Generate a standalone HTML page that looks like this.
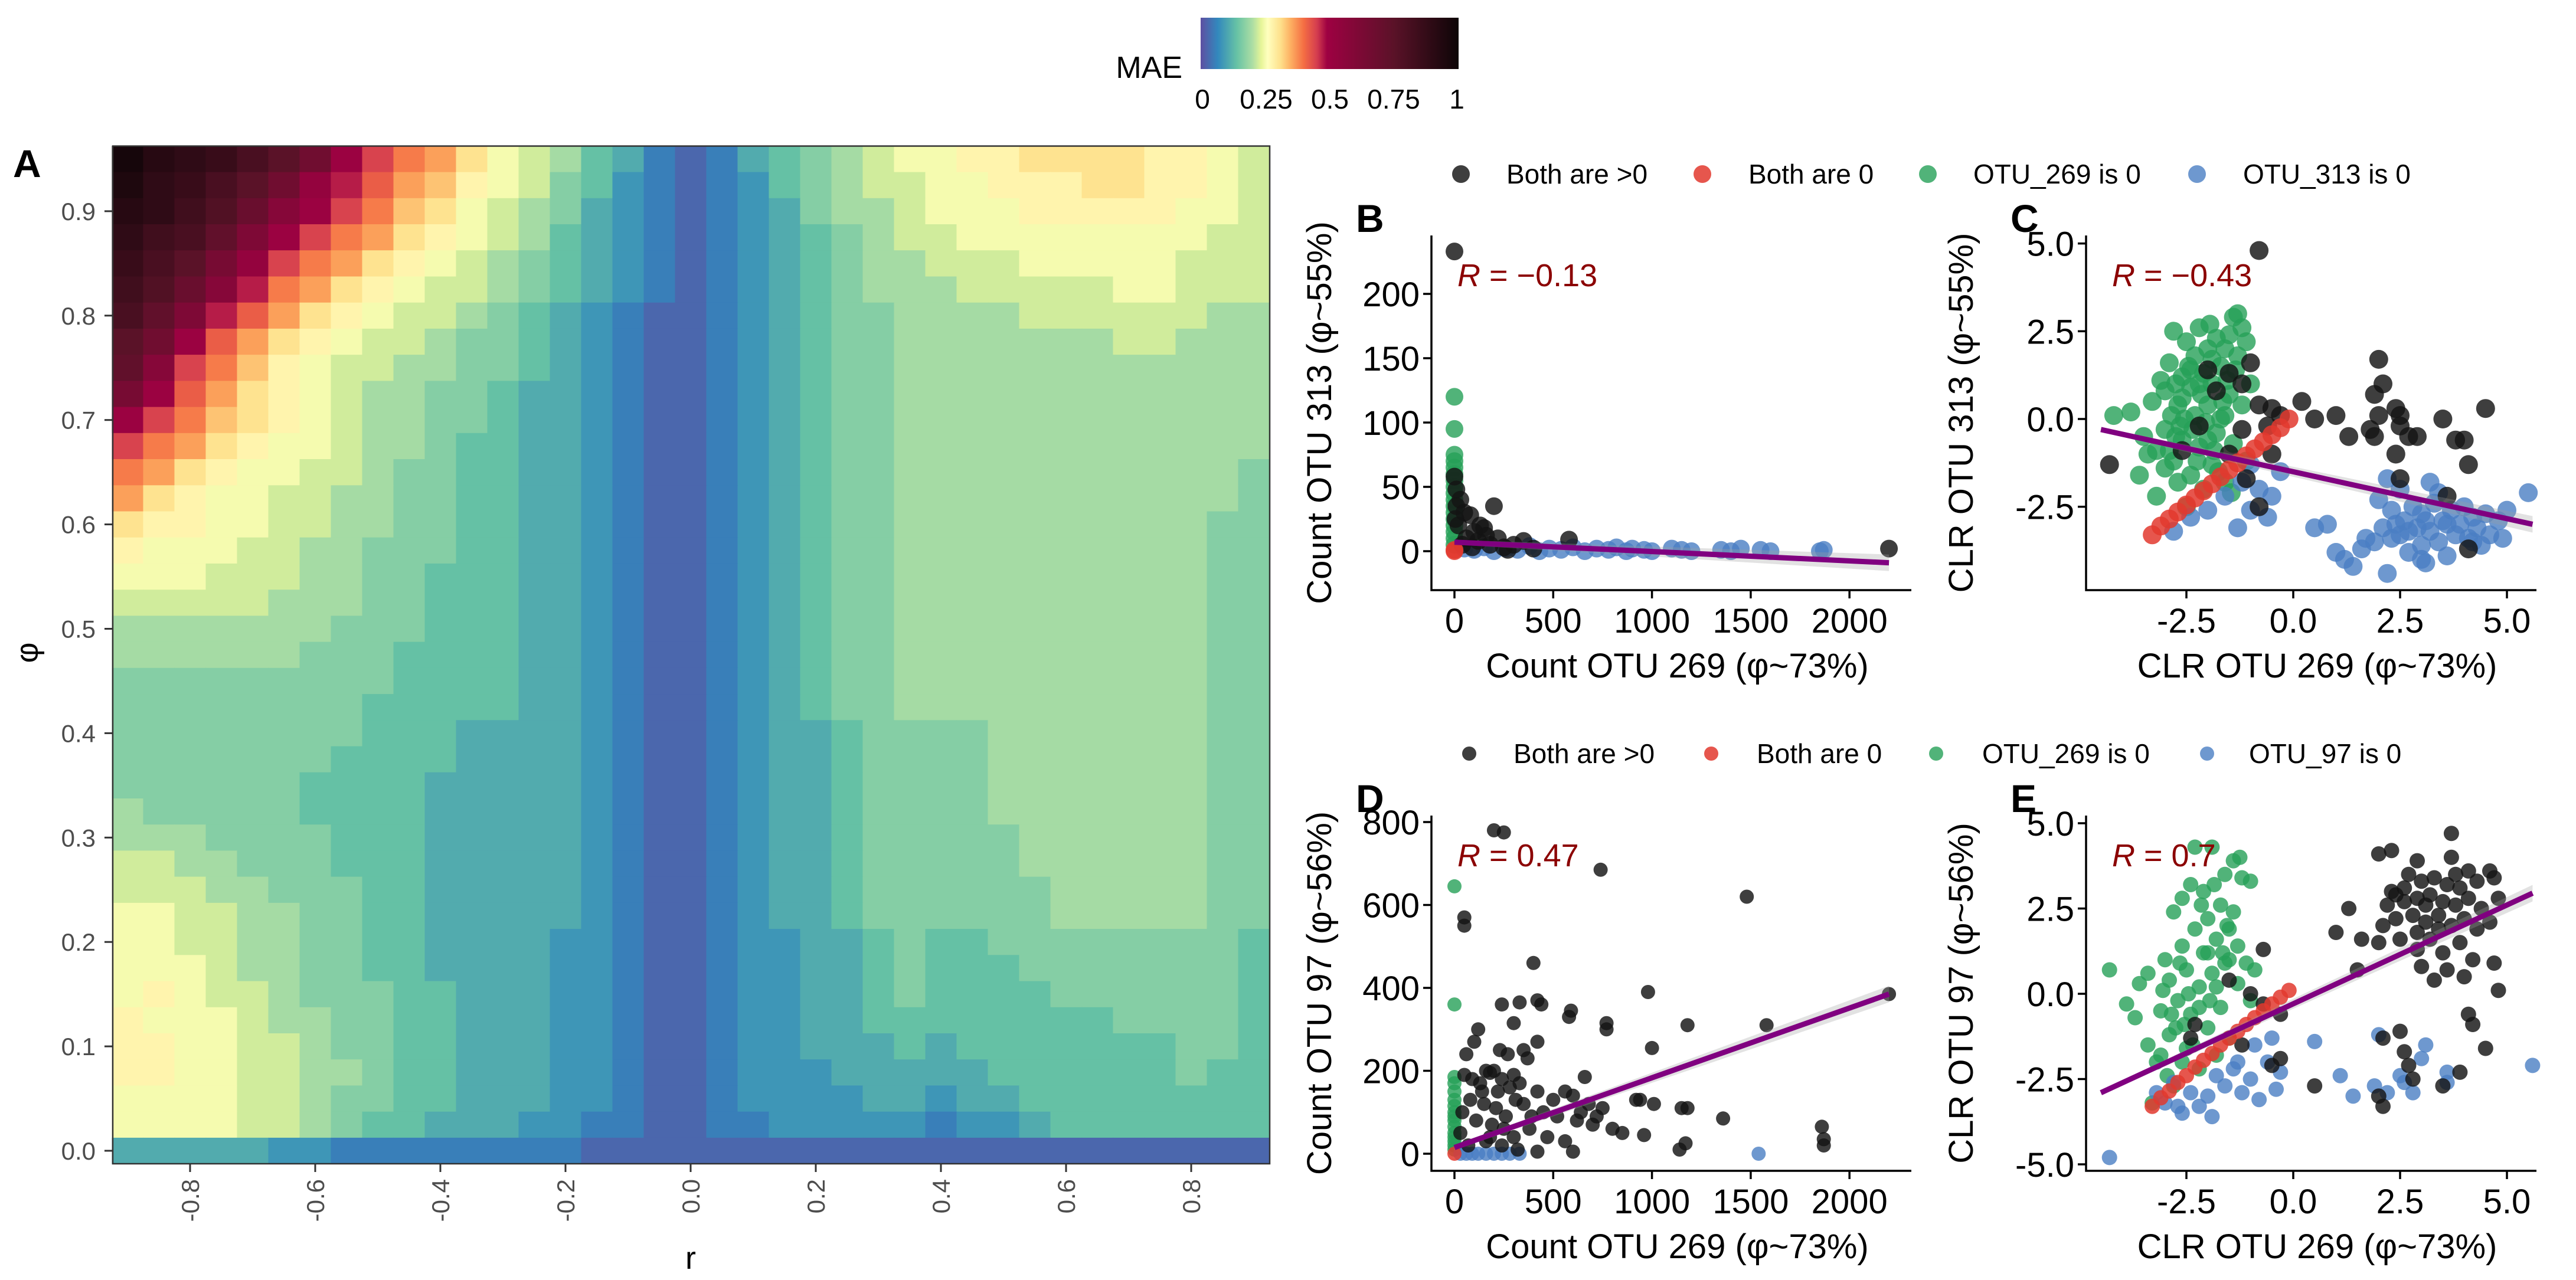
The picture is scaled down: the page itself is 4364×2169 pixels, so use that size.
<!DOCTYPE html>
<html><head><meta charset="utf-8">
<style>
html,body{margin:0;padding:0;background:#fff;}
svg{display:block;font-family:"Liberation Sans",Arial,sans-serif;}
</style></head>
<body>
<svg id="fig" width="4364" height="2169" viewBox="0 0 4364 2169" xmlns="http://www.w3.org/2000/svg">
  <defs>
    <linearGradient id="maeGrad" x1="0" x2="1" y1="0" y2="0">
      <stop offset="0" stop-color="#5E4FA2"/>
      <stop offset="0.066" stop-color="#3288BD"/>
      <stop offset="0.14" stop-color="#66C2A5"/>
      <stop offset="0.2" stop-color="#ABDDA4"/>
      <stop offset="0.235" stop-color="#E6F598"/>
      <stop offset="0.26" stop-color="#FFFFBF"/>
      <stop offset="0.31" stop-color="#FEE08B"/>
      <stop offset="0.35" stop-color="#FDAE61"/>
      <stop offset="0.4" stop-color="#F46D43"/>
      <stop offset="0.45" stop-color="#D53E4F"/>
      <stop offset="0.49" stop-color="#9E0142"/>
      <stop offset="0.75" stop-color="#5a1228"/>
      <stop offset="1" stop-color="#0d0507"/>
    </linearGradient>
  </defs>
  <g id="heat"></g>
  <g id="scat"></g>
  <g>
    <text x="2003" y="132" font-size="52" text-anchor="end">MAE</text>
    <rect x="2034" y="30" width="437" height="87" fill="url(#maeGrad)"/>
    <text x="2037" y="184" font-size="46" text-anchor="middle">0</text>
    <text x="2145" y="184" font-size="46" text-anchor="middle">0.25</text>
    <text x="2253" y="184" font-size="46" text-anchor="middle">0.5</text>
    <text x="2361" y="184" font-size="46" text-anchor="middle">0.75</text>
    <text x="2468" y="184" font-size="46" text-anchor="middle">1</text>
  </g>
</svg>
<script>
// ---------- Heatmap data (MAE level code per cell, value = index/36) ----------
const rValues = [];
for (let i = 0; i < 37; i++) rValues.push(Math.round((-0.9 + i*0.05)*1000)/1000);
const phiValues = [];
for (let j = 0; j < 39; j++) phiValues.push(Math.round((0.95 - j*0.025)*1000)/1000);
const maeCodes = [
"zxwvtroigedb"+"9875421"+"2456789"+"9aabbbbaa98",
"ywvtrojhfdca"+"9865321"+"2356788"+"99aaabbaa98",
"xwuspligecb9"+"8764321"+"2346778"+"999aaaaa998",
"wutqmigedba9"+"8754321"+"2345678"+"89999999988",
"vtrnjgedba98"+"7654321"+"2345677"+"88899999888",
"usplhedba988"+"7654321"+"2345677"+"78888899888",
"tqmhfdba9887"+"6543211"+"2345667"+"77788888877",
"roifdba98876"+"6543211"+"2345667"+"77777788777",
"qlgeca988776"+"6543211"+"2345667"+"77777777777",
"nifdba987766"+"5443211"+"2345667"+"77777777777",
"igecba987766"+"5443211"+"2345667"+"77777777777",
"gedba9987765"+"5443211"+"2345667"+"77777777777",
"edba99887665"+"5443211"+"2345667"+"77777777776",
"dba998877665"+"5443211"+"2345667"+"77777777776",
"baa998877665"+"5443211"+"2345667"+"77777777766",
"a99988776665"+"5443211"+"2345667"+"77777777766",
"999888776655"+"5443211"+"2345667"+"77777777766",
"888887776655"+"5443211"+"2345667"+"77777777766",
"777777766655"+"5443211"+"2345667"+"77777777766",
"777777666555"+"5443211"+"2345667"+"77777777766",
"666666666555"+"5443211"+"2345667"+"77777777766",
"666666665555"+"5443211"+"2345667"+"77777777766",
"666666665554"+"4443211"+"2344566"+"66777777766",
"666666655554"+"4443211"+"2344566"+"66777777766",
"666666555544"+"4443211"+"2344566"+"66777777766",
"766666555544"+"4443211"+"2344566"+"66777777766",
"777666655544"+"4443211"+"2344566"+"66677777766",
"887766655544"+"4443211"+"2344566"+"66677777766",
"888776665544"+"4443211"+"2344566"+"66667777766",
"998877665544"+"4443211"+"2344566"+"66667777766",
"998877665544"+"4433211"+"2334456"+"55666666665",
"999877665544"+"4433211"+"2334456"+"55566666665",
"9a9887666554"+"4433211"+"2334456"+"55556666665",
"a99987766554"+"4433211"+"2334455"+"55555566665",
"aa9988766554"+"4433211"+"2334445"+"45555555665",
"aa9988776554"+"4433211"+"2333444"+"44555555655",
"999988766554"+"4433211"+"2333344"+"34455555555",
"999988765544"+"4332211"+"2233333"+"23345555555",
"444443322222"+"2221111"+"1111111"+"11111111111"
];
const heatXTicks = [-0.8,-0.6,-0.4,-0.2,0.0,0.2,0.4,0.6,0.8];
const heatXTickLabels = ["-0.8","-0.6","-0.4","-0.2","0.0","0.2","0.4","0.6","0.8"];
const heatYTicks = [0,0.1,0.2,0.3,0.4,0.5,0.6,0.7,0.8,0.9];
const heatYTickLabels = ["0.0","0.1","0.2","0.3","0.4","0.5","0.6","0.7","0.8","0.9"];

// ---------- Scatter data ----------
const bBlack = [[0,233],[0,58],[10,35],[30,40],[50,30],[80,28],[200,35],[150,18],[100,15],[60,10],[20,20],[120,8],[180,5],[250,3],[300,5],[350,8],[400,2],[580,9],[2200,2],[40,5],[90,3],[220,10],[270,1],[160,12],[10,48],[5,25],[130,20]];
const bGreen = [[0,120],[0,95],[0,75],[0,70],[0,65],[0,60],[0,55],[0,50],[0,45],[0,40],[0,35],[0,30],[0,25],[0,20],[0,15],[0,10],[0,5]];
const bBlue = [[50,2],[100,1],[150,3],[200,0],[260,2],[320,1],[380,4],[430,0],[480,2],[540,1],[600,3],[660,0],[720,2],[780,1],[820,3],[870,0],[900,2],[960,1],[1000,0],[1100,2],[1150,1],[1200,0],[1350,1],[1400,0],[1450,2],[1550,1],[1600,0],[1850,0],[1870,1]];
const bRed = [[0,0],[0,1]];
const bFit = [0,7,2200,-9];
const cBlack = [[-4.3,-1.3],[-2.0,1.4],[-1.5,1.3],[-1.0,1.6],[-1.8,0.8],[-1.2,1.0],[-0.8,0.4],[-0.5,0.3],[-0.3,0.1],[-0.5,-1.0],[-0.8,-2.5],[-0.6,-0.2],[-2.2,-0.2],[-1.1,-1.7],[0.2,0.5],[0.5,0],[1.0,0.1],[1.3,-0.5],[1.9,-0.5],[2.0,1.7],[2.1,1.0],[1.9,0.7],[2.0,0.1],[2.4,0.3],[2.5,0.1],[2.7,-0.5],[2.9,-0.5],[2.5,-0.2],[2.4,-1.0],[2.5,-1.7],[3.5,0],[3.8,-0.6],[4.0,-0.6],[4.1,-1.3],[4.5,0.3],[3.6,-2.2],[4.1,-3.7],[1.8,-0.3],[-0.8,4.8],[-1.2,-0.3],[-1.5,-1.0],[-2.6,-0.9]];
const cGreen = [[-4.2,0.1],[-3.8,0.2],[-3.6,-1.6],[-3.4,-1.0],[-3.2,-2.2],[-3.0,-0.3],[-3.0,0.8],[-2.9,1.6],[-2.8,2.5],[-2.8,-1.2],[-2.7,0.4],[-2.6,1.2],[-2.6,-0.6],[-2.5,2.2],[-2.5,-2.5],[-2.4,0.9],[-2.4,-1.6],[-2.3,1.8],[-2.3,0.1],[-2.2,2.6],[-2.2,-0.8],[-2.1,1.3],[-2.1,-2.0],[-2.0,2.0],[-2.0,0.4],[-1.9,-1.3],[-1.9,1.0],[-1.8,2.3],[-1.8,-0.4],[-1.7,1.5],[-1.7,0.0],[-1.6,2.0],[-1.6,-1.8],[-1.5,0.7],[-1.5,2.4],[-1.4,2.9],[-1.4,-0.7],[-1.3,3.0],[-1.3,1.8],[-1.2,2.6],[-1.2,0.4],[-1.1,2.2],[-1.1,-1.2],[-1.0,1.0],[-2.7,-1.8],[-3.3,0.5],[-2.9,-0.9],[-2.45,1.5],[-1.95,2.7],[-2.15,0.7],[-1.65,0.5],[-3.1,1.1],[-2.35,-0.3],[-1.85,-0.9],[-1.45,-2.1],[-3.5,-0.5],[-2.55,0.0],[-2.75,1.0],[-2.05,-0.1],[-1.55,1.1],[-2.65,-0.2],[-3.2,-0.9],[-1.75,-1.5],[-2.25,-1.2],[-2.85,0.1],[-2.4,1.4],[-1.9,1.7],[-1.6,0.1],[-2.2,1.0],[-2.6,0.6],[-3.0,-1.4],[-1.35,1.4],[-2.0,-0.6],[-2.75,-0.5]];
const cBlue = [[-2.8,-3.2],[-2.4,-2.8],[-2.0,-2.6],[-1.6,-2.2],[-1.2,-1.8],[-1.0,-1.3],[-0.8,-2.0],[-0.5,-2.2],[-1.0,-2.6],[-0.6,-2.8],[0.5,-3.1],[0.8,-3.0],[1.0,-3.8],[1.2,-4.0],[1.4,-4.2],[1.6,-3.7],[1.7,-3.4],[2.0,-2.3],[2.2,-1.7],[2.2,-4.4],[2.3,-2.6],[2.4,-3.0],[2.5,-3.3],[2.6,-2.9],[2.7,-3.8],[2.8,-2.5],[2.9,-3.1],[3.0,-3.6],[3.0,-2.7],[3.1,-4.1],[3.2,-3.2],[3.3,-2.4],[3.4,-3.5],[3.5,-2.9],[3.6,-3.9],[3.7,-2.6],[3.8,-3.3],[3.9,-3.0],[4.0,-2.5],[4.1,-3.4],[4.2,-2.8],[4.3,-3.1],[4.4,-3.6],[4.5,-2.7],[4.6,-3.3],[4.8,-2.9],[5.0,-2.6],[5.5,-2.1],[2.5,-2.0],[3.2,-1.8],[3.0,-4.0],[2.1,-3.1],[1.9,-3.5],[3.4,-2.1],[4.9,-3.4],[-1.3,-3.1],[-0.3,-1.5],[2.7,-3.2],[3.6,-3.0],[4.2,-3.5],[3.1,-2.9],[2.3,-3.4]];
const cRed = [[-3.3,-3.3],[-3.1,-3.05],[-2.9,-2.85],[-2.7,-2.65],[-2.5,-2.45],[-2.3,-2.25],[-2.1,-2.05],[-1.9,-1.85],[-1.7,-1.65],[-1.5,-1.45],[-1.3,-1.25],[-1.1,-1.05],[-0.9,-0.85],[-0.7,-0.65],[-0.5,-0.45],[-0.3,-0.25],[-0.1,0.0]];
const cFit = [-4.5,-0.3,5.6,-3.0];
const dBlack = [[200,780],[250,775],[740,685],[1480,620],[50,570],[50,550],[400,460],[980,390],[2200,385],[240,360],[330,365],[420,370],[440,360],[590,345],[580,330],[770,315],[770,300],[1180,310],[1580,310],[300,315],[120,300],[100,270],[420,270],[1000,255],[230,250],[270,240],[350,250],[370,230],[60,240],[160,200],[180,195],[200,200],[240,180],[90,180],[130,170],[300,190],[50,190],[660,185],[220,150],[280,160],[330,170],[420,150],[500,130],[560,150],[600,140],[680,120],[750,110],[150,120],[80,130],[350,120],[450,100],[520,90],[620,80],[700,70],[800,60],[260,90],[190,70],[110,80],[40,100],[380,60],[470,40],[560,30],[300,40],[920,130],[940,130],[1010,120],[1150,110],[1180,110],[1360,85],[850,50],[960,45],[1860,65],[1870,35],[1870,20],[1140,10],[1170,25],[600,5],[30,50],[70,20],[160,30],[240,20],[320,10],[420,5],[640,100],[720,90],[140,150],[210,110],[310,130],[390,90],[180,40],[250,60]];
const dGreen = [[0,645],[0,360],[0,185],[0,170],[0,150],[0,130],[0,115],[0,100],[0,90],[0,80],[0,65],[0,50],[0,40],[0,30],[0,20],[0,10]];
const dBlue = [[30,0],[60,0],[90,0],[120,0],[160,0],[200,0],[240,0],[280,0],[330,0],[1540,0]];
const dRed = [[0,0]];
const dFit = [0,15,2200,385];
const eBlack = [[2.0,4.1],[2.3,4.2],[2.9,3.9],[3.7,4.7],[3.7,4.0],[4.1,3.6],[4.6,3.6],[2.3,3.0],[2.6,3.1],[3.0,3.3],[3.3,3.4],[3.6,3.2],[3.9,3.1],[4.3,3.3],[4.7,3.4],[2.2,2.6],[2.6,2.7],[2.9,2.8],[3.2,2.9],[3.5,2.7],[3.8,2.6],[4.1,2.8],[4.4,2.5],[4.8,2.8],[2.1,2.0],[2.4,2.2],[2.8,2.3],[3.1,2.1],[3.4,2.3],[3.7,2.0],[4.0,2.2],[4.3,1.9],[4.6,2.1],[2.0,1.5],[2.5,1.6],[2.9,1.3],[3.2,1.6],[3.5,1.2],[3.9,1.5],[4.2,1.0],[4.7,0.9],[3.0,0.8],[3.6,0.7],[4.0,0.5],[3.3,0.4],[1.0,1.8],[1.3,2.5],[1.6,1.6],[1.5,0.7],[4.8,0.1],[4.1,-0.6],[4.2,-0.9],[4.5,-1.6],[3.9,-2.3],[2.1,-1.3],[2.5,-1.1],[2.6,-1.7],[2.7,-2.1],[2.8,-2.5],[3.5,-2.7],[2.0,-3.0],[2.1,-3.3],[-0.7,1.3],[-1.5,0.4],[-1.0,0.0],[-0.7,-0.3],[-0.3,-0.6],[-1.2,-1.5],[-2.4,-1.3],[-0.5,-2.1],[-0.3,-1.9],[0.5,-2.7],[-2.3,-0.9],[2.7,3.5],[3.1,2.6],[3.4,1.9],[2.4,2.9],[3.8,3.5],[2.9,1.8]];
const eGreen = [[-4.3,0.7],[-3.9,-0.3],[-3.7,-0.7],[-3.6,0.3],[-3.4,-1.5],[-3.4,0.6],[-3.2,-2.0],[-3.1,-0.5],[-3.0,1.0],[-2.9,-1.2],[-2.9,0.4],[-2.8,2.4],[-2.8,-2.7],[-2.7,-0.2],[-2.6,1.4],[-2.6,2.8],[-2.5,-1.6],[-2.5,0.7],[-2.4,3.2],[-2.4,-0.6],[-2.3,1.9],[-2.3,4.3],[-2.2,0.2],[-2.2,-2.2],[-2.1,1.2],[-2.1,3.0],[-2.0,-1.0],[-2.0,2.2],[-1.9,0.6],[-1.9,4.3],[-1.8,-1.8],[-1.8,1.6],[-1.7,2.6],[-1.7,-0.4],[-1.6,3.5],[-1.6,0.9],[-1.5,1.9],[-1.5,-1.3],[-1.4,3.9],[-1.4,2.4],[-1.3,0.3],[-1.3,1.4],[-1.2,3.4],[-1.1,0.9],[-1.0,3.3],[-1.0,-0.2],[-0.9,0.7],[-3.3,-3.2],[-2.95,-2.4],[-2.65,0.9],[-2.15,2.6],[-1.85,3.2],[-1.55,2.0],[-1.25,4.0],[-2.75,-1.0],[-3.05,0.1],[-2.35,-1.5],[-1.95,-0.2],[-1.65,1.2],[-2.45,0.0],[-2.85,-0.6],[-2.55,-0.9],[-2.2,-0.4],[-1.8,0.2],[-2.0,1.2],[-1.5,1.0],[-3.1,-1.8],[-2.6,-2.0]];
const eBlue = [[-3.2,-2.9],[-3.0,-3.2],[-2.8,-2.6],[-2.6,-3.5],[-2.4,-2.9],[-2.2,-3.3],[-2.0,-3.0],[-1.8,-2.4],[-1.6,-2.7],[-1.4,-2.2],[-1.2,-2.9],[-1.0,-2.5],[-0.9,-1.5],[-0.8,-3.1],[-0.6,-2.0],[-0.4,-2.8],[-0.5,-1.3],[-0.3,-2.3],[0.5,-1.4],[1.1,-2.4],[1.4,-3.0],[1.9,-2.7],[2.2,-2.9],[2.5,-2.4],[2.6,-2.6],[2.8,-2.9],[3.0,-1.9],[3.1,-1.5],[3.6,-2.3],[3.6,-2.6],[2.0,-1.2],[5.6,-2.1],[-4.3,-4.8],[-1.9,-3.6],[-1.3,-2.0],[-2.7,-3.3]];
const eRed = [[-3.3,-3.3],[-3.1,-3.05],[-2.9,-2.85],[-2.7,-2.6],[-2.5,-2.4],[-2.3,-2.15],[-2.1,-1.95],[-1.9,-1.75],[-1.7,-1.5],[-1.5,-1.3],[-1.3,-1.1],[-1.1,-0.9],[-0.9,-0.7],[-0.7,-0.5],[-0.5,-0.3],[-0.3,-0.1],[-0.1,0.1]];
const eFit = [-4.5,-2.9,5.6,2.95];

const countXTicks = [0,500,1000,1500,2000];
const clrXTicks = [-2.5,0,2.5,5];
const clrXTickLabels = ["-2.5","0.0","2.5","5.0"];
const bYTicks = [0,50,100,150,200];
const cYTicks = [-2.5,0,2.5,5];
const cYTickLabels = ["-2.5","0.0","2.5","5.0"];
const dYTicks = [0,200,400,600,800];
const eYTicks = [-5,-2.5,0,2.5,5];
const eYTickLabels = ["-5.0","-2.5","0.0","2.5","5.0"];

const NS = "http://www.w3.org/2000/svg";
function mk(parent, tag, attrs, text){
  const el = document.createElementNS(NS, tag);
  for (const k in attrs) el.setAttribute(k, attrs[k]);
  if (text !== undefined) el.textContent = text;
  parent.appendChild(el);
  return el;
}
const stops = [[0,[94,79,162]],[0.066,[50,136,189]],[0.14,[102,194,165]],[0.2,[171,221,164]],[0.235,[230,245,152]],[0.26,[255,255,191]],[0.31,[254,224,139]],[0.35,[253,174,97]],[0.4,[244,109,67]],[0.45,[213,62,79]],[0.49,[158,1,66]],[0.75,[90,18,40]],[1,[13,5,7]]];
function colorFor(v){
  v = Math.max(0, Math.min(1, v));
  for (let i = 1; i < stops.length; i++){
    if (v <= stops[i][0]){
      const a = stops[i-1], b = stops[i];
      const t = (v - a[0])/(b[0]-a[0]);
      const c = a[1].map((x,k)=>Math.round(x + (b[1][k]-x)*t));
      return "rgb("+c.join(",")+")";
    }
  }
  return "rgb(13,5,7)";
}
const CODE = "0123456789abcdefghijklmnopqrstuvwxyz";

const heat = document.getElementById('heat');
const hx = r => 1170 + r*1060;
const hy = p => 1950 - p*1769;
for (let j = 0; j < phiValues.length; j++){
  for (let i = 0; i < rValues.length; i++){
    const v = CODE.indexOf(maeCodes[j][i]) / 36;
    const x0 = hx(rValues[i]-0.025), x1 = hx(rValues[i]+0.025);
    const y0 = hy(phiValues[j]+0.0125), y1 = hy(phiValues[j]-0.0125);
    const c = mk(heat,'rect',{x:x0.toFixed(1),y:y0.toFixed(1),width:(x1-x0+0.8).toFixed(1),height:(y1-y0+0.8).toFixed(1),fill:colorFor(v)});
    
    
  }
}
let el = mk(heat,'rect',{x:191,y:247.5,width:1960,height:1724.5,fill:'none',stroke:'#333',"stroke-width":2.5});


heatXTicks.forEach((t,k)=>{
  const x = hx(t);
  let tk = mk(heat,'line',{x1:x,x2:x,y1:1972,y2:1986,stroke:'#333',"stroke-width":3});
  
  
  let lb = mk(heat,'text',{x:0,y:0,transform:`translate(${x+15},1998) rotate(-90)`,"font-size":42,fill:'#4d4d4d',"text-anchor":"end"}, heatXTickLabels[k]);
  
  
});
heatYTicks.forEach((t,k)=>{
  const y = hy(t);
  let tk = mk(heat,'line',{x1:177,x2:191,y1:y,y2:y,stroke:'#333',"stroke-width":3});
  
  
  let lb = mk(heat,'text',{x:162,y:y+15,"font-size":42,fill:'#4d4d4d',"text-anchor":"end"}, heatYTickLabels[k]);
  
  
});
el = mk(heat,'text',{x:1170,y:2150,"font-size":54,"text-anchor":"middle"},'r');


el = mk(heat,'text',{x:0,y:0,transform:'translate(64,1106) rotate(-90)',"font-size":54,"text-anchor":"middle"},'φ');


el = mk(heat,'text',{x:22,y:300,"font-size":66,"font-weight":"bold"},'A');



const scat = document.getElementById('scat');
const COL = {black:'rgba(20,20,20,0.82)', red:'rgba(226,56,46,0.85)', green:'rgba(38,160,88,0.8)', blue:'rgba(74,126,195,0.8)'};
function panel(p){
  const g = mk(scat,'g',{});
  
  
  const sets = [[p.green,'green'],[p.blue,'blue'],[p.black,'black'],[p.red,'red']];
  sets.forEach(([arr,c])=>{
    arr.forEach(pt=>{
      const d = mk(g,'circle',{cx:p.x(pt[0]).toFixed(1),cy:p.y(pt[1]).toFixed(1),r:p.r,fill:COL[c]});
      
      
    });
  });
  const f = p.fit;
  const band = mk(g,'polygon',{points:`${p.x(f[0])},${p.y(f[1])-4} ${p.x(f[2])},${p.y(f[3])-14} ${p.x(f[2])},${p.y(f[3])+14} ${p.x(f[0])},${p.y(f[1])+4}`,fill:'rgba(160,160,160,0.3)'});
  
  
  const ln = mk(g,'line',{x1:p.x(f[0]),y1:p.y(f[1]),x2:p.x(f[2]),y2:p.y(f[3]),stroke:'#800080',"stroke-width":9});
  
  
  const ax = mk(g,'path',{d:`M${p.L},${p.T} V${p.B} H${p.R}`,fill:'none',stroke:'#000',"stroke-width":3.5});
  
  
  p.xt.forEach((t,k)=>{
    const x = p.x(t);
    const tk = mk(g,'line',{x1:x,x2:x,y1:p.B,y2:p.B+14,stroke:'#000',"stroke-width":3.5});
    
    
    const lb = mk(g,'text',{x:x,y:p.B+72,"font-size":58,"text-anchor":"middle"}, p.xl[k]);
    
    
  });
  p.yt.forEach((t,k)=>{
    const y = p.y(t);
    const tk = mk(g,'line',{x1:p.L-14,x2:p.L,y1:y,y2:y,stroke:'#000',"stroke-width":3.5});
    
    
    const lb = mk(g,'text',{x:p.L-20,y:y+21,"font-size":58,"text-anchor":"end"}, p.yl[k]);
    
    
  });
  let t = mk(g,'text',{x:(p.L+p.R)/2+10,y:p.B+148,"font-size":58,"text-anchor":"middle"}, p.xTitle);
  
  
  t = mk(g,'text',{x:0,y:0,transform:`translate(${p.yTx},${(p.T+p.B)/2}) rotate(-90)`,"font-size":58,"text-anchor":"middle"}, p.yTitle);
  
  
  t = mk(g,'text',{x:p.L-128,y:p.T-6,"font-size":66,"font-weight":"bold"}, p.label);
  
  
  t = mk(g,'text',{x:p.L+44,y:p.T+86,"font-size":54,fill:'#8B0000'});
  
  
  mk(t,'tspan',{"font-style":"italic"},'R');
  mk(t,'tspan',{}, ' = ' + p.rText);
}
const countX = v => 2464 + v*167.3/500;
const clrX = v => 3885 + v*181/2.5;
const countXLabels = countXTicks.map(String);
panel({name:'panel-b-count-scatter',label:'B',x:countX,y:v=>934 - v*109/50,L:2425,R:3238,T:399,B:1000,r:15,
  black:bBlack,green:bGreen,blue:bBlue,red:bRed,fit:bFit,xt:countXTicks,xl:countXLabels,yt:bYTicks,yl:bYTicks.map(String),
  xTitle:'Count OTU 269 (φ~73%)',yTitle:'Count OTU 313 (φ~55%)',yTx:2255,rText:'−0.13'});
panel({name:'panel-c-clr-scatter',label:'C',x:clrX,y:v=>710 - v*148.7/2.5,L:3534,R:4297,T:399,B:1000,r:16,
  black:cBlack,green:cGreen,blue:cBlue,red:cRed,fit:cFit,xt:clrXTicks,xl:clrXTickLabels,yt:cYTicks,yl:cYTickLabels,
  xTitle:'CLR OTU 269 (φ~73%)',yTitle:'CLR OTU 313 (φ~55%)',yTx:3342,rText:'−0.43'});
panel({name:'panel-d-count-scatter',label:'D',x:countX,y:v=>1955 - v*140.5/200,L:2425,R:3238,T:1382,B:1984,r:12,
  black:dBlack,green:dGreen,blue:dBlue,red:dRed,fit:dFit,xt:countXTicks,xl:countXLabels,yt:dYTicks,yl:dYTicks.map(String),
  xTitle:'Count OTU 269 (φ~73%)',yTitle:'Count OTU 97 (φ~56%)',yTx:2255,rText:'0.47'});
panel({name:'panel-e-clr-scatter',label:'E',x:clrX,y:v=>1684 - v*144.5/2.5,L:3534,R:4297,T:1382,B:1984,r:13,
  black:eBlack,green:eGreen,blue:eBlue,red:eRed,fit:eFit,xt:clrXTicks,xl:clrXTickLabels,yt:eYTicks,yl:eYTickLabels,
  xTitle:'CLR OTU 269 (φ~73%)',yTitle:'CLR OTU 97 (φ~56%)',yTx:3342,rText:'0.7'});

function legend(y, r, items, fs){
  const g = mk(scat,'g',{});
  
  
  items.forEach(it=>{
    const c = mk(g,'circle',{cx:it[0],cy:y,r:r,fill:COL[it[2]]});
    
    
    const t = mk(g,'text',{x:it[1],y:y+16,"font-size":fs}, it[3]);
    
    
  });
}
legend(295, 15, [[2475,2552,'black','Both are >0'],[2884,2962,'red','Both are 0'],[3266,3343,'green','OTU_269 is 0'],[3722,3800,'blue','OTU_313 is 0']], 46);
legend(1277, 12, [[2489,2564,'black','Both are >0'],[2899,2976,'red','Both are 0'],[3280,3358,'green','OTU_269 is 0'],[3739,3810,'blue','OTU_97 is 0']], 46);
</script>
</body></html>
